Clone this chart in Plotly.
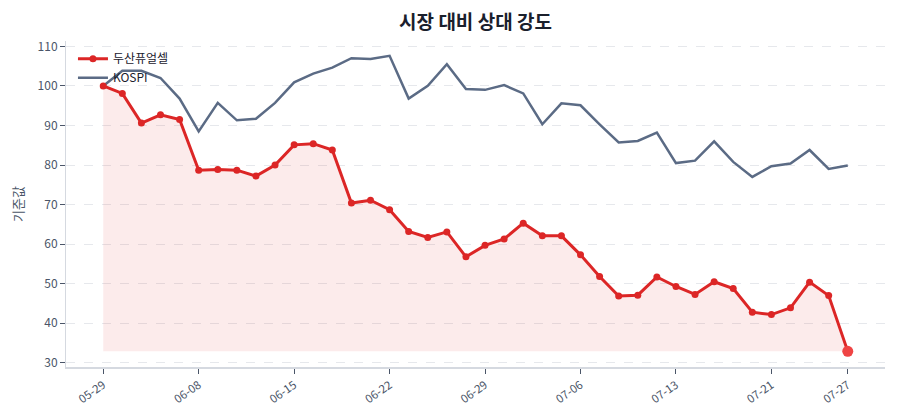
import plotly.graph_objects as go

# trading days (categorical x axis)
dates = [
    "05-29", "06-01", "06-02", "06-04", "06-05",
    "06-08", "06-09", "06-10", "06-11", "06-12",
    "06-15", "06-16", "06-17", "06-18", "06-19",
    "06-22", "06-23", "06-24", "06-25", "06-26",
    "06-29", "06-30", "07-01", "07-02", "07-03",
    "07-06", "07-07", "07-08", "07-09", "07-10",
    "07-13", "07-14", "07-15", "07-16", "07-17",
    "07-21", "07-22", "07-23", "07-24", "07-27",
]

# relative index values (start = 100)
stock = [
    100.0, 98.1, 90.6, 92.7, 91.5,
    78.7, 78.9, 78.7, 77.2, 80.0,
    85.1, 85.4, 83.8, 70.4, 71.1,
    68.7, 63.2, 61.7, 63.1, 56.8,
    59.7, 61.3, 65.3, 62.1, 62.1,
    57.3, 51.8, 46.9, 47.1, 51.7,
    49.3, 47.3, 50.5, 48.8, 42.8,
    42.2, 43.9, 50.4, 47.0, 32.9,
]
kospi = [
    100.0, 103.8, 103.8, 102.0, 96.8,
    88.5, 95.7, 91.3, 91.7, 95.7,
    100.9, 103.1, 104.6, 107.0, 106.8,
    107.6, 96.8, 100.0, 105.5, 99.2,
    99.0, 100.2, 98.1, 90.3, 95.6,
    95.1, 90.3, 85.7, 86.1, 88.2,
    80.5, 81.1, 86.0, 80.8, 77.0,
    79.7, 80.4, 83.8, 79.0, 79.9,
]

tick_idx = [0, 5, 10, 15, 20, 25, 30, 35, 39]
tick_labels = [dates[i] for i in tick_idx]

RED = "#dc2626"
SLATE = "#5b6b85"
FONT = "Noto Sans CJK KR"

fig = go.Figure()

# baseline for the shaded area
base = min(stock)
fig.add_trace(go.Scatter(
    x=dates, y=[base] * len(dates), mode="lines",
    line=dict(width=0), showlegend=False, hoverinfo="skip"
))
fig.add_trace(go.Scatter(
    x=dates, y=stock, mode="lines", line=dict(width=0),
    fill="tonexty", fillcolor="rgba(220,38,38,0.09)",
    showlegend=False, hoverinfo="skip"
))

fig.add_trace(go.Scatter(
    x=dates, y=kospi, mode="lines", name="KOSPI",
    line=dict(color=SLATE, width=2.5)
))
fig.add_trace(go.Scatter(
    x=dates, y=stock, mode="lines+markers", name="두산퓨얼셀",
    line=dict(color=RED, width=3), marker=dict(size=7, color=RED)
))
# highlight last point
fig.add_trace(go.Scatter(
    x=[dates[-1]], y=[stock[-1]], mode="markers",
    marker=dict(size=11, color="#ef4444"), showlegend=False
))

fig.update_layout(
    width=900, height=420,
    margin=dict(l=58, r=23, t=33, b=61),
    plot_bgcolor="white", paper_bgcolor="white",
    font=dict(family=FONT, color="#4a5568", size=12),
    title=dict(text="<b>시장 대비 상대 강도</b>", x=0.5, xanchor="center",
               xref="paper", yref="container", y=0.966, yanchor="middle",
               font=dict(size=19, color="#1a202c", family=FONT)),
    legend=dict(x=0.0085, y=0.99, xanchor="left", yanchor="top",
                traceorder="reversed",
                bgcolor="rgba(0,0,0,0)", font=dict(size=12, color="#1a202c"),
                tracegroupgap=0),
    showlegend=True,
)

fig.update_xaxes(
    type="category", range=[-1.95, 40.95], automargin=False,
    tickmode="array", tickvals=tick_labels, ticktext=tick_labels,
    tickangle=-35, tickfont=dict(size=11.5, color="#4a5568"),
    showgrid=False, showline=True, linecolor="#d5d9e0", linewidth=2,
    ticks="outside", ticklen=5, tickcolor="#4a5568", zeroline=False,
)
fig.update_yaxes(
    range=[28.95, 111.35], tickmode="array", automargin=False,
    tickvals=[30, 40, 50, 60, 70, 80, 90, 100, 110],
    tickfont=dict(size=12, color="#4a5568"),
    title=dict(text="기준값", font=dict(size=13, color="#4a5568"), standoff=11),
    showgrid=True, gridcolor="#e6e8ec", griddash="dash", gridwidth=1,
    showline=True, linecolor="#d5d9e0", linewidth=1,
    ticks="outside", ticklen=5, tickcolor="#4a5568", zeroline=False,
)

fig.write_html("out.html")
